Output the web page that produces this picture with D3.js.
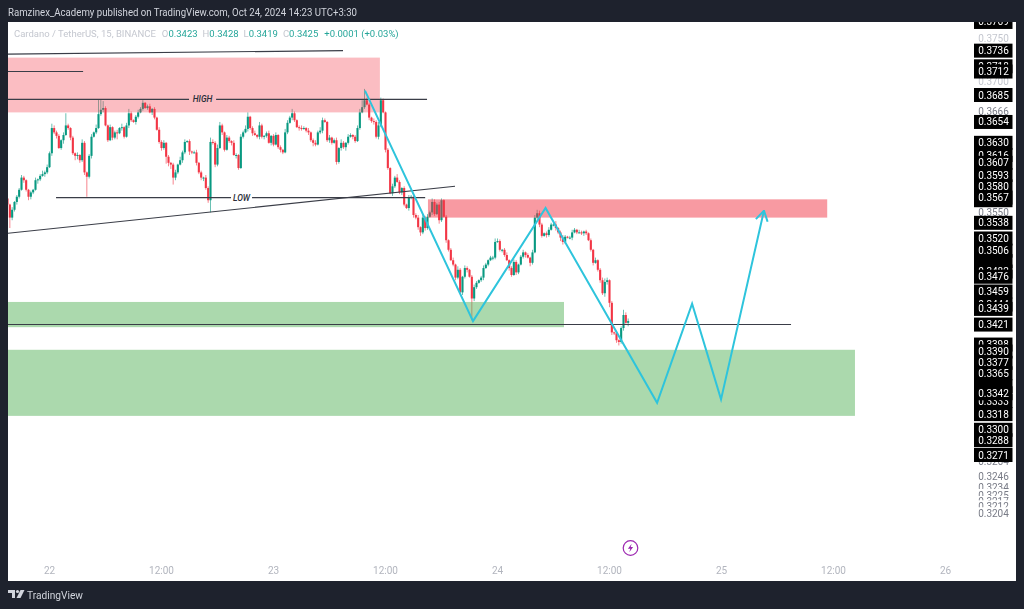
<!DOCTYPE html>
<html>
<head>
<meta charset="utf-8">
<title>Cardano / TetherUS</title>
<script src="https://cdn.jsdelivr.net/npm/d3@7"></script>
<style>
    html, body { margin: 0; padding: 0; background: #1e222d; }
    svg { display: block; filter: blur(0.3px); }
    text { font-family: Roboto, sans-serif; }
</style>
</head>
<body>
<svg id="chart" width="1024" height="609"></svg>
<script>
// all prices are in units of 0.0001
const firstOpen = 3566;
const closes = [
    3559, 3544, 3553, 3562, 3568, 3576, 3590, 3587, 3576, 3568,
    3573, 3576, 3587, 3588, 3592, 3594, 3596, 3602, 3618, 3647,
    3642, 3638, 3624, 3633, 3639, 3650, 3647, 3636, 3618, 3615,
    3616, 3610, 3630, 3596, 3591, 3615, 3637, 3642, 3647, 3663,
    3668, 3670, 3650, 3633, 3648, 3636, 3642, 3641, 3647, 3648,
    3637, 3650, 3664, 3656, 3654, 3660, 3665, 3669, 3676, 3670,
    3672, 3665, 3669, 3659, 3645, 3631, 3624, 3630, 3614, 3607,
    3605, 3590, 3596, 3605, 3610, 3619, 3631, 3632, 3620, 3619,
    3619, 3607, 3596, 3590, 3590, 3578, 3564, 3631, 3630, 3605,
    3624, 3650, 3642, 3622, 3636, 3632, 3630, 3616, 3616, 3601,
    3637, 3642, 3646, 3660, 3647, 3641, 3639, 3637, 3650, 3637,
    3638, 3641, 3630, 3638, 3628, 3639, 3625, 3622, 3619, 3642,
    3653, 3659, 3664, 3656, 3648, 3647, 3646, 3647, 3644, 3642,
    3633, 3630, 3628, 3642, 3644, 3656, 3654, 3633, 3636, 3630,
    3633, 3608, 3624, 3630, 3625, 3630, 3637, 3639, 3637, 3632,
    3647, 3665, 3671, 3679, 3674, 3659, 3655, 3654, 3637, 3650,
    3679, 3665, 3622, 3601, 3572, 3580, 3590, 3585, 3573, 3578,
    3559, 3555, 3567, 3568, 3547, 3544, 3533, 3527, 3544, 3532,
    3545, 3550, 3562, 3548, 3559, 3541, 3564, 3545, 3518, 3507,
    3495, 3490, 3475, 3484, 3458, 3476, 3486, 3484, 3476, 3451,
    3464, 3469, 3472, 3475, 3486, 3490, 3495, 3498, 3498, 3516,
    3517, 3507, 3507, 3501, 3495, 3486, 3478, 3493, 3481, 3490,
    3499, 3504, 3501, 3498, 3492, 3504, 3544, 3549, 3536, 3523,
    3526, 3524, 3530, 3536, 3536, 3532, 3527, 3521, 3516, 3522,
    3521, 3521, 3527, 3530, 3527, 3527, 3526, 3528, 3526, 3518,
    3507, 3492, 3495, 3484, 3472, 3457, 3470, 3472, 3446, 3412,
    3411, 3403, 3401, 3417, 3432, 3423, 3425
];
const upperWicks = [
    2, 1, 3, 1, 2, 2, 3, 2, 1, 1,
    2, 1, 3, 1, 2, 4, 2, 3, 2, 5,
    3, 2, 2, 1, 3, 14, 2, 1, 2, 1,
    3, 1, 4, 2, 1, 2, 3, 1, 4, 17,
    12, 8, 2, 1, 3, 1, 2, 3, 1, 4,
    1, 3, 5, 2, 1, 2, 3, 2, 3, 1,
    2, 3, 1, 2, 1, 3, 2, 3, 1, 2,
    1, 2, 3, 1, 4, 2, 3, 1, 2, 1,
    2, 3, 1, 2, 1, 3, 2, 5, 3, 2,
    4, 4, 2, 1, 3, 2, 1, 3, 2, 1,
    3, 2, 4, 5, 1, 2, 3, 1, 4, 2,
    1, 2, 3, 1, 2, 3, 1, 2, 1, 4,
    3, 2, 5, 2, 1, 2, 3, 2, 1, 3,
    1, 2, 3, 2, 4, 3, 2, 1, 3, 1,
    2, 3, 1, 4, 2, 1, 3, 2, 1, 2,
    3, 4, 8, 13, 3, 2, 1, 3, 2, 4,
    3, 2, 1, 2, 1, 3, 2, 4, 2, 1,
    2, 1, 3, 2, 1, 2, 3, 1, 4, 2,
    3, 2, 4, 3, 2, 3, 2, 1, 2, 1,
    2, 3, 1, 4, 2, 1, 3, 2, 1, 2,
    3, 2, 1, 2, 3, 2, 1, 2, 2, 4,
    3, 2, 1, 2, 3, 1, 2, 3, 2, 1,
    2, 3, 1, 2, 1, 3, 3, 4, 3, 2,
    1, 2, 3, 2, 2, 4, 1, 2, 3, 2,
    1, 2, 3, 2, 1, 3, 2, 1, 2, 1,
    2, 1, 3, 1, 2, 3, 4, 3, 1, 2,
    1, 2, 1, 2, 6, 3, 3
];
const lowerWicks = [
    4, 12, 3, 2, 3, 2, 1, 3, 2, 4,
    3, 2, 1, 4, 2, 1, 3, 2, 1, 3,
    2, 3, 1, 2, 4, 1, 2, 3, 2, 5,
    4, 3, 2, 3, 23, 2, 3, 1, 2, 1,
    2, 3, 1, 2, 1, 3, 2, 7, 1, 3,
    2, 1, 3, 2, 1, 3, 2, 1, 2, 1,
    2, 1, 3, 2, 1, 2, 3, 2, 8, 4,
    5, 8, 3, 2, 1, 3, 2, 1, 4, 2,
    1, 3, 2, 3, 4, 2, 3, 14, 2, 3,
    2, 1, 3, 2, 1, 2, 3, 1, 4, 2,
    1, 2, 1, 3, 2, 3, 1, 2, 3, 2,
    3, 2, 1, 3, 2, 1, 2, 3, 2, 1,
    2, 1, 3, 2, 1, 3, 2, 1, 2, 3,
    2, 4, 2, 1, 2, 3, 1, 2, 3, 2,
    1, 3, 2, 3, 2, 4, 2, 1, 3, 2,
    1, 2, 1, 2, 1, 3, 2, 3, 2, 3,
    2, 1, 3, 2, 1, 3, 2, 1, 2, 3,
    2, 1, 3, 2, 3, 2, 3, 4, 2, 3,
    2, 1, 3, 2, 1, 4, 2, 1, 3, 2,
    1, 2, 3, 2, 1, 3, 2, 3, 1, 25,
    3, 2, 1, 2, 3, 1, 2, 1, 3, 2,
    1, 2, 3, 2, 1, 3, 2, 1, 3, 2,
    1, 2, 3, 1, 4, 2, 1, 2, 3, 2,
    1, 3, 2, 1, 2, 3, 2, 4, 3, 2,
    1, 2, 3, 1, 2, 1, 2, 3, 2, 1,
    2, 3, 1, 2, 3, 2, 4, 3, 5, 3,
    2, 3, 4, 2, 3, 1, 4
];

// time axis, positions in bars from the first candle
const timeTicks = [18, 66, 114, 162, 210, 258, 306, 354, 402];
const timeLabels = ['22', '12:00', '23', '12:00', '24', '12:00', '25', '12:00', '26'];

// price scale labels
const lightTicks = [3750, 3700];
const darkTicks = [3666, 3550, 3264, 3246, 3234, 3225, 3217, 3212, 3204];
const blankTags = [3564, 3494, 3350];
const tags = [
    3769, 3736, 3718, 3712, 3685, 3654, 3630, 3616, 3607, 3593, 3580, 3567,
    3538, 3520, 3506, 3482, 3476, 3459, 3444, 3439, 3421, 3398, 3390, 3377,
    3365, 3333, 3342, 3318, 3300, 3288, 3271
];

// zones: barFrom, barTo, priceTop, priceBottom, fill
const zones = [
    [0.2, 159.6, 3728, 3665, 'rgba(242,54,69,0.33)'],
    [180.2, 351.3, 3565, 3544, 'rgba(242,54,69,0.5)'],
    [0.2, 238.5, 3447, 3418, 'rgba(76,175,80,0.47)'],
    [0.2, 363.2, 3392, 3316, 'rgba(76,175,80,0.47)']
];
// trend lines: barFrom, priceFrom, barTo, priceTo
const trendLines = [
    [0.2, 3732, 143.8, 3736],
    [0.2, 3712, 32.4, 3712],
    [0.2, 3680, 77.8, 3680],
    [89.4, 3680, 179.8, 3680],
    [20.8, 3567, 95.8, 3567],
    [104.8, 3567, 179, 3567],
    [0.2, 3526, 191.8, 3580],
    [0.2, 3421, 335.8, 3421]
];
const lineLabels = [
    ['HIGH', 83.6, 3680],
    ['LOW', 100.3, 3567]
];
const pathBars = [153.2, 199.5, 230.6, 278.4, 293.4, 305.8, 324.2];
const pathPrices = [3690, 3425, 3555, 3331, 3445, 3335, 3552];

const upColor = '#089981';
const downColor = '#f23645';
const chartLeft = 8, chartRight = 1016, chartTop = 22, chartBottom = 581;

const svg = d3.select('#chart');
const x = d3.scaleLinear().domain([0, 96]).range([7.5, 231.5]);
const y = d3.scaleLinear().domain([3685, 3271]).range([95, 455]);

const candles = closes.map((c, i) => {
    const o = i === 0 ? firstOpen : closes[i - 1];
    return {
        i, o, c,
        h: Math.max(o, c) + upperWicks[i],
        l: Math.min(o, c) - lowerWicks[i]
    };
});

svg.append('defs').append('clipPath').attr('id', 'plot')
    .append('rect')
    .attr('x', chartLeft).attr('y', chartTop)
    .attr('width', 966).attr('height', chartBottom - chartTop);

svg.select('defs').append('marker')
    .attr('id', 'arrow')
    .attr('viewBox', '0 -7 12 14')
    .attr('refX', 11)
    .attr('refY', 0)
    .attr('markerWidth', 12)
    .attr('markerHeight', 14)
    .attr('markerUnits', 'userSpaceOnUse')
    .attr('orient', 'auto')
    .append('path')
    .attr('d', 'M1,-6L11,0L1,6')
    .attr('fill', 'none')
    .attr('stroke', '#2ec4dc')
    .attr('stroke-width', 2);

svg.append('rect')
    .attr('x', chartLeft).attr('y', chartTop)
    .attr('width', chartRight - chartLeft).attr('height', chartBottom - chartTop)
    .attr('fill', '#ffffff');

const plot = svg.append('g').attr('clip-path', 'url(#plot)');

const candleGroup = plot.append('g').attr('class', 'candles')
    .selectAll('g')
    .data(candles)
    .enter()
    .append('g');

candleGroup.append('line')
    .attr('x1', d => x(d.i)).attr('x2', d => x(d.i))
    .attr('y1', d => y(d.h)).attr('y2', d => y(d.l))
    .attr('stroke', d => d.c >= d.o ? upColor : downColor)
    .attr('stroke-width', 1)
    .attr('opacity', 0.6);

candleGroup.append('rect')
    .attr('x', d => x(d.i) - 1.05)
    .attr('width', 2.1)
    .attr('y', d => y(Math.max(d.o, d.c)))
    .attr('height', d => Math.max(1, Math.abs(y(d.o) - y(d.c))))
    .attr('fill', d => d.c >= d.o ? upColor : downColor);

plot.append('g').selectAll('rect')
    .data(zones)
    .enter()
    .append('rect')
    .attr('x', d => x(d[0]))
    .attr('width', d => x(d[1]) - x(d[0]))
    .attr('y', d => y(d[2]))
    .attr('height', d => y(d[3]) - y(d[2]))
    .attr('fill', d => d[4]);

plot.append('g').selectAll('line')
    .data(trendLines)
    .enter()
    .append('line')
    .attr('x1', d => x(d[0])).attr('y1', d => y(d[1]))
    .attr('x2', d => x(d[2])).attr('y2', d => y(d[3]))
    .attr('stroke', '#3a3d47')
    .attr('stroke-width', 1.1);

plot.append('g').selectAll('text')
    .data(lineLabels)
    .enter()
    .append('text')
    .attr('x', d => x(d[1]))
    .attr('y', d => y(d[2]) + 3)
    .attr('text-anchor', 'middle')
    .attr('font-size', 8.5)
    .attr('font-style', 'italic')
    .attr('font-weight', 500)
    .attr('fill', '#2a2e39')
    .text(d => d[0]);

const pathLine = d3.line()
    .x(d => x(d))
    .y((d, i) => y(pathPrices[i]));

plot.append('path')
    .attr('d', pathLine(pathBars))
    .attr('fill', 'none')
    .attr('stroke', '#2ec4dc')
    .attr('stroke-width', 2)
    .attr('marker-end', 'url(#arrow)');

// price scale
const priceLabel = v => (v / 10000).toFixed(4);
const tagX = 974, tagWidth = 38.5, tagTextX = 993.5;

svg.append('g').selectAll('text')
    .data(lightTicks)
    .enter()
    .append('text')
    .attr('x', tagTextX)
    .attr('y', d => y(d) + 3.5)
    .attr('text-anchor', 'middle')
    .attr('font-size', 10)
    .attr('fill', '#c4c7cf')
    .text(priceLabel);

darkTicks.forEach(v => {
    svg.append('rect')
        .attr('x', tagX).attr('width', tagWidth)
        .attr('y', y(v) - 6).attr('height', 12)
        .attr('fill', '#ffffff');
    svg.append('text')
        .attr('x', tagTextX)
        .attr('y', y(v) + 3.5)
        .attr('text-anchor', 'middle')
        .attr('font-size', 10)
        .attr('fill', '#787b86')
        .text(priceLabel(v));
});

blankTags.forEach(v => {
    svg.append('rect')
        .attr('x', tagX).attr('width', tagWidth)
        .attr('y', y(v) - 7).attr('height', 14)
        .attr('fill', '#000000');
});

tags.forEach(v => {
    svg.append('rect')
        .attr('x', tagX).attr('width', tagWidth)
        .attr('y', y(v) - 7).attr('height', 14)
        .attr('fill', '#000000');
    svg.append('text')
        .attr('x', tagTextX)
        .attr('y', y(v) + 3.5)
        .attr('text-anchor', 'middle')
        .attr('font-size', 10)
        .attr('fill', '#ffffff')
        .text(priceLabel(v));
});

// time axis
svg.append('g').selectAll('text')
    .data(timeTicks)
    .enter()
    .append('text')
    .attr('x', d => x(d))
    .attr('y', 573.5)
    .attr('text-anchor', 'middle')
    .attr('font-size', 10)
    .attr('fill', '#b2b5be')
    .text((d, i) => timeLabels[i]);

// frame around the chart
svg.append('rect').attr('x', 0).attr('y', 0).attr('width', 1024).attr('height', chartTop).attr('fill', '#1e222d');
svg.append('rect').attr('x', 0).attr('y', chartBottom).attr('width', 1024).attr('height', 609 - chartBottom).attr('fill', '#1e222d');

svg.append('text')
    .attr('x', 8).attr('y', 15.5)
    .attr('font-size', 10.5)
    .attr('textLength', 349)
    .attr('lengthAdjust', 'spacingAndGlyphs')
    .attr('fill', '#d1d4dc')
    .text('Ramzinex_Academy published on TradingView.com, Oct 24, 2024 14:23 UTC+3:30');

// legend
const legend = svg.append('text').attr('x', 14).attr('y', 37).attr('font-size', 9.5);
legend.append('tspan').attr('fill', '#c4c7cf').text('Cardano / TetherUS, 15, BINANCE');
[['O', '0.3423'], ['H', '0.3428'], ['L', '0.3419'], ['C', '0.3425']].forEach((p, i) => {
    legend.append('tspan').attr('fill', '#c4c7cf').attr('dx', i === 0 ? 6 : 5).text(p[0]);
    legend.append('tspan').attr('fill', '#26a69a').text(p[1]);
});
legend.append('tspan').attr('fill', '#26a69a').attr('dx', 6).text('+0.0001 (+0.03%)');

// lightning mark
const bolt = svg.append('g').attr('transform', `translate(${x(267)},548)`);
bolt.append('circle').attr('r', 7.3).attr('fill', 'none').attr('stroke', '#9c27b0').attr('stroke-width', 1.2);
bolt.append('path').attr('d', 'M1.2,-4.2L-2.6,0.8H-0.2L-1.2,4.2L2.6,-0.9H0.2Z').attr('fill', '#9c27b0');

// logo
const logo = svg.append('g').attr('fill', '#d1d4dc');
logo.append('path').attr('d', 'M8,590H15V598H12V593H8Z');
logo.append('circle').attr('cx', 17.5).attr('cy', 591.5).attr('r', 1.6);
logo.append('path').attr('d', 'M20.5,590H24.5L20.5,598H16.5Z');
svg.append('text')
    .attr('x', 27).attr('y', 598.5)
    .attr('font-size', 11)
    .attr('textLength', 56)
    .attr('lengthAdjust', 'spacingAndGlyphs')
    .attr('fill', '#d1d4dc')
    .text('TradingView');
</script>
</body>
</html>
